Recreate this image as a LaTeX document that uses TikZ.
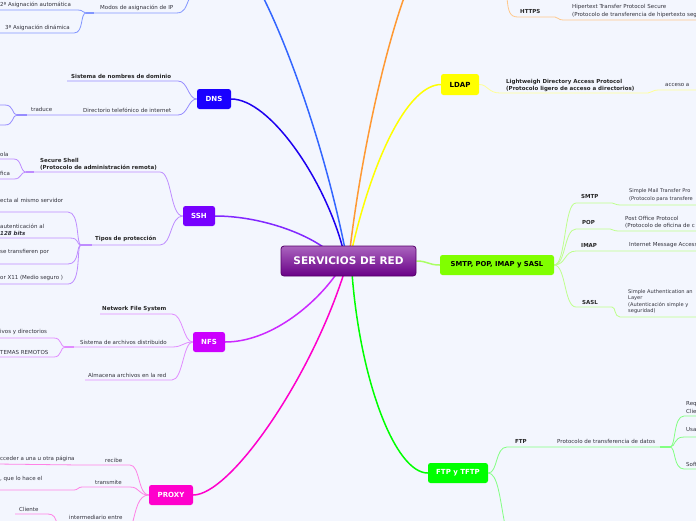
\documentclass[tikz,border=0pt]{standalone}
\usepackage{fontspec}
\setmainfont{DejaVu Sans}
\usetikzlibrary{backgrounds}
\definecolor{bgc}{RGB}{243,246,254}
\definecolor{tx}{RGB}{50,50,60}
\definecolor{cDHCP}{RGB}{51,102,255}
\definecolor{cOR}{RGB}{255,153,51}
\definecolor{cYE}{RGB}{255,255,0}
\definecolor{cDNS}{RGB}{30,0,240}
\definecolor{cSSH}{RGB}{130,40,255}
\definecolor{cNFS}{RGB}{204,40,255}
\definecolor{cPRX}{RGB}{255,0,204}
\definecolor{cGR}{RGB}{0,255,0}
\definecolor{cSM}{RGB}{170,255,100}
\definecolor{sDHCP}{RGB}{130,150,255}
\definecolor{sDNS}{RGB}{150,140,255}
\definecolor{sSSH}{RGB}{190,140,255}
\definecolor{sNFS}{RGB}{225,140,255}
\definecolor{sPRX}{RGB}{255,130,230}
\definecolor{sSM}{RGB}{190,255,140}
\definecolor{sGR}{RGB}{130,255,130}
\definecolor{sYE}{RGB}{255,255,150}
\definecolor{sOR}{RGB}{255,200,140}
\definecolor{bxDNS}{RGB}{26,0,255}
\definecolor{bxSSH}{RGB}{119,0,255}
\definecolor{bxNFS}{RGB}{204,0,255}
\definecolor{bxPRX}{RGB}{255,0,204}
\definecolor{bxSM}{RGB}{128,255,0}
\definecolor{bxGR}{RGB}{0,255,0}
\definecolor{ctop}{RGB}{170,100,190}
\definecolor{cbot}{RGB}{105,0,135}
\definecolor{cbrd}{RGB}{85,0,105}
\tikzset{
  lbl/.style={font=\fontsize{5.5}{7.4}\selectfont, text=tx, inner sep=0pt, anchor=west, align=left},
  blbl/.style={lbl, font=\fontsize{5.5}{7.4}\selectfont\bfseries, text=black!85},
  topic/.style={rounded corners=2.5pt, font=\fontsize{7}{8}\selectfont\bfseries, text=white, inner sep=0pt, minimum height=20pt},
  sub/.style={line width=0.8pt},
  br/.style={line width=1.5pt},
}
\begin{document}
\begin{tikzpicture}[x=1pt,y=-1pt]
\useasboundingbox (0,0) rectangle (696,520);
% central and topic boxes
\node[rounded corners=3pt, draw=cbrd, line width=0.8pt, top color=ctop, bottom color=cbot, minimum width=135pt, minimum height=30pt, font=\fontsize{10.5}{11}\selectfont\bfseries, text=white] (c) at (348.5,261) {SERVICIOS DE RED};
\node[topic, fill=bxDNS, minimum width=34pt] (dns) at (214,99) {DNS};
\node[topic, fill=bxSSH, minimum width=32pt] (ssh) at (199,216) {SSH};
\node[topic, fill=bxNFS, minimum width=32pt] (nfs) at (209,342) {NFS};
\node[topic, fill=bxPRX, minimum width=44pt] (proxy) at (171,495) {PROXY};
\node[topic, fill=cYE, text=black, minimum width=38pt, minimum height=21pt] (ldap) at (460,84.5) {LDAP};
\node[topic, fill=bxSM, text=black, minimum width=114pt, font=\fontsize{6.8}{8}\selectfont\bfseries] (smtp) at (497,265) {SMTP, POP, IMAP y SASL};
\node[topic, fill=bxGR, minimum width=60pt] (ftp) at (458,473) {FTP y TFTP};
% coordinates on the central node
\coordinate (cDH) at (345,249);
\coordinate (cOr) at (350,249);
\coordinate (cYe) at (352,249);
\coordinate (cDn) at (343,249);
\coordinate (cSs) at (326,249);
\coordinate (cNf) at (337,273);
\coordinate (cPr) at (344,273);
\coordinate (cGr) at (352,273);
% labels
\node[lbl] (t1) at (0,5) {2ª Asignación automática};
\node[lbl] (t2) at (5,28) {3ª Asignación dinámica};
\node[lbl] (t3) at (100,8) {Modos de asignación de IP};
\node[blbl] (t4) at (71,76) {Sistema de nombres de dominio};
\node[lbl] (t5) at (83,110) {Directorio telefónico de internet};
\node[lbl] (t6) at (31,109) {traduce};
\node[blbl] (t7) at (40,164) {Secure Shell\\(Protocolo de administración remota)};
\node[lbl] (t8) at (0,154) {ola};
\node[lbl] (t9) at (0,173) {fica};
\node[blbl] (t10) at (95,239) {Tipos de protección};
\node[lbl] (t11) at (0,200) {ecta al mismo servidor};
\node[lbl] (t12) at (0,226) {autenticación al};
\node[lbl, font=\fontsize{5.5}{6}\selectfont\bfseries\itshape] (t13) at (0,233) {128 bits};
\node[lbl] (t14) at (0,252) {se transfieren por};
\node[lbl] (t15) at (0,278) {or X11 (Medio seguro )};
\node[blbl] (t16) at (102,309) {Network File System};
\node[lbl] (t17) at (80,342) {Sistema de archivos distribuido};
\node[lbl] (t18) at (0,332) {ivos y directorios};
\node[lbl] (t19) at (0,352) {TEMAS REMOTOS};
\node[lbl] (t20) at (88,375) {Almacena archivos en la red};
\node[lbl] (t21) at (105,460) {recibe};
\node[lbl] (t22) at (0,459) {cceder a una u otra página};
\node[lbl] (t23) at (95,482) {transmite};
\node[lbl] (t24) at (0,479) {, que lo hace el};
\node[lbl] (t25) at (69,517) {intermediario entre};
\node[lbl] (t26) at (19,509) {Cliente};
\node[blbl] (t27) at (506,85.5) {Lightweigh Directory Access Protocol\\(Protocolo ligero de acceso a directorios)};
\node[lbl] (t28) at (665,85) {acceso a};
\node[blbl] (t29) at (520,11) {HTTPS};
\node[lbl] (t30) at (572,11) {Hipertext Transfer Protocol Secure\\(Protocolo de transferencia de hipertexto seg};
\node[blbl] (t31) at (581,196) {SMTP};
\node[lbl, font=\fontsize{5.1}{7.4}\selectfont] (t32) at (629,195) {Simple Mail Transfer Pro\\(Protocolo para transfere};
\node[blbl] (t33) at (582,222) {POP};
\node[lbl] (t34) at (625,222.5) {Post Office Protocol\\(Protocolo de oficina de c};
\node[blbl] (t35) at (581,245) {IMAP};
\node[lbl] (t36) at (629,245) {Internet Message Access};
\node[blbl] (t37) at (582,302) {SASL};
\node[lbl, font=\fontsize{5.1}{6.4}\selectfont] (t38) at (628,301.5) {Simple Authentication an\\Layer\\(Autenticación simple y\\seguridad)};
\node[blbl] (t39) at (515,441) {FTP};
\node[lbl] (t40) at (557,441) {Protocolo de transferencia de datos};
\node[lbl] (t41) at (686,407.5) {Req\\Clie};
\node[lbl] (t42) at (686,430) {Usa};
\node[lbl] (t43) at (686,464) {Soft};
\begin{scope}[on background layer]
\fill[bgc] (-5,-5) rectangle (701,525);
% main branches
\draw[br, cDHCP] (cDH) .. controls (325,150) and (290,50) .. (262,-5);
\draw[br, cOR] (cOr) .. controls (362,150) and (385,50) .. (405,-5);
\draw[br, cYE] (cYe) .. controls (375,150) and (410,85) .. (ldap.west);
\draw[br, cDNS] (dns.east) .. controls (270,99) and (325,180) .. (cDn);
\draw[br, cSSH] (ssh.east) .. controls (255,216) and (300,230) .. (cSs);
\draw[br, cNFS] (nfs.east) .. controls (270,342) and (315,305) .. (cNf);
\draw[br, cPRX] (proxy.east) .. controls (230,495) and (310,380) .. (cPr);
\draw[br, cGR] (cGr) .. controls (360,380) and (395,473) .. (ftp.west);
\draw[br, cSM] (c.east) .. controls (428,261) and (428,265) .. (smtp.west);
% DHCP subs
\draw[sub, sDHCP] (190,-3) .. controls (185,8) and (185,13) .. (176,13) -- (86,13);
\draw[sub, sDHCP] (86,13) .. controls (82,13) and (84,10) .. (78,10) -- (-3,10);
\draw[sub, sDHCP] (86,13) .. controls (80,13) and (84,33) .. (74,33) -- (-3,33);
\draw[line width=1.4pt, sDHCP] (86,13) -- (94,13);
% DNS subs
\draw[sub, sDNS] (dns.west) .. controls (188,99) and (188,81) .. (178,81) -- (67,81);
\draw[sub, sDNS] (dns.west) .. controls (188,99) and (188,115) .. (178,115) -- (17,115);
\draw[line width=1.4pt, sDNS] (17,115) -- (27,115);
\draw[sub, sDNS] (17,115) .. controls (12,115) and (14,105) .. (5,105) -- (-3,105);
\draw[sub, sDNS] (17,115) .. controls (12,115) and (14,125) .. (5,125) -- (-3,125);
% SSH subs
\draw[sub, sSSH] (ssh.west) .. controls (170,216) and (172,172) .. (160,172) -- (26,172);
\draw[sub, sSSH] (ssh.west) .. controls (170,216) and (172,245) .. (160,245) -- (81,245);
\draw[line width=1.4pt, sSSH] (81,245) -- (92,245);
\draw[line width=1.4pt, sSSH] (26,172) -- (34,172);
\draw[sub, sSSH] (26,172) .. controls (20,172) and (22,159) .. (14,159) -- (-3,159);
\draw[sub, sSSH] (26,172) .. controls (20,172) and (22,179) .. (14,179) -- (-3,179);
\draw[sub, sSSH] (81,245) .. controls (76,245) and (80,212) .. (68,212) -- (-3,212);
\draw[sub, sSSH] (81,245) .. controls (76,245) and (80,238) .. (70,238) -- (-3,238);
\draw[sub, sSSH] (81,245) .. controls (76,245) and (80,264) .. (68,264) -- (-3,264);
\draw[sub, sSSH] (81,245) .. controls (76,245) and (82,284) .. (68,284) -- (-3,284);
% NFS subs
\draw[sub, sNFS] (nfs.west) .. controls (183,342) and (183,314) .. (172,314) -- (100,314);
\draw[sub, sNFS] (nfs.west) .. controls (183,342) and (183,347) .. (172,347) -- (65,347);
\draw[sub, sNFS] (nfs.west) .. controls (183,342) and (183,380) .. (172,380) -- (85,380);
\draw[line width=1.4pt, sNFS] (65,347) -- (74,347);
\draw[sub, sNFS] (65,347) .. controls (60,347) and (62,338) .. (54,338) -- (-3,338);
\draw[sub, sNFS] (65,347) .. controls (60,347) and (62,357) .. (54,357) -- (-3,357);
% PROXY subs
\draw[sub, sPRX] (proxy.west) .. controls (138,495) and (140,465) .. (130,465) -- (80,465) -- (-3,464);
\draw[sub, sPRX] (proxy.west) .. controls (138,495) and (140,487) .. (130,487) -- (82,487) .. controls (78,487) and (78,490) .. (74,490) -- (-3,490);
\draw[sub, sPRX] (proxy.west) .. controls (138,495) and (136,510) .. (132,525);
\draw[sub, sPRX] (15,514) -- (48,514) .. controls (54,514) and (56,518) .. (57,525);
% SMTP subs
\draw[sub, sSM] (smtp.east) .. controls (566,265) and (564,203) .. (576,203) -- (612,203) .. controls (615,203) and (615,205) .. (620,205) -- (700,205);
\draw[sub, sSM] (smtp.east) .. controls (566,265) and (564,229) .. (576,229) -- (610,229) .. controls (613,229) and (613,231) .. (618,231) -- (700,231);
\draw[sub, sSM] (smtp.east) .. controls (566,265) and (564,251) .. (576,251) -- (700,251);
\draw[sub, sSM] (smtp.east) .. controls (566,265) and (564,307) .. (576,307) -- (612,307) .. controls (616,307) and (614,317) .. (620,317) -- (700,317);
% FTP subs
\draw[sub, sGR] (ftp.east) .. controls (498,473) and (495,447) .. (507,447) -- (670,447);
\draw[line width=1.4pt, sGR] (660,447) -- (670,447);
\draw[sub, sGR] (670,447) .. controls (676,447) and (673,416) .. (684,416) -- (700,416);
\draw[sub, sGR] (670,447) .. controls (676,447) and (673,437) .. (684,437) -- (700,437);
\draw[sub, sGR] (670,447) .. controls (676,447) and (673,469) .. (684,469) -- (700,469);
\draw[sub, sGR] (ftp.east) .. controls (498,473) and (500,500) .. (505,525);
% LDAP sub
\draw[sub, sYE] (ldap.east) .. controls (488,84.5) and (488,93) .. (500,93) -- (648,93) .. controls (652,93) and (652,90) .. (658,90) -- (700,90);
% orange sub
\draw[sub, sOR] (507,-3) .. controls (508,12) and (510,17) .. (518,17) -- (555,17) .. controls (558,17) and (558,20) .. (563,20) -- (700,20);
\end{scope}
\end{tikzpicture}
\end{document}
